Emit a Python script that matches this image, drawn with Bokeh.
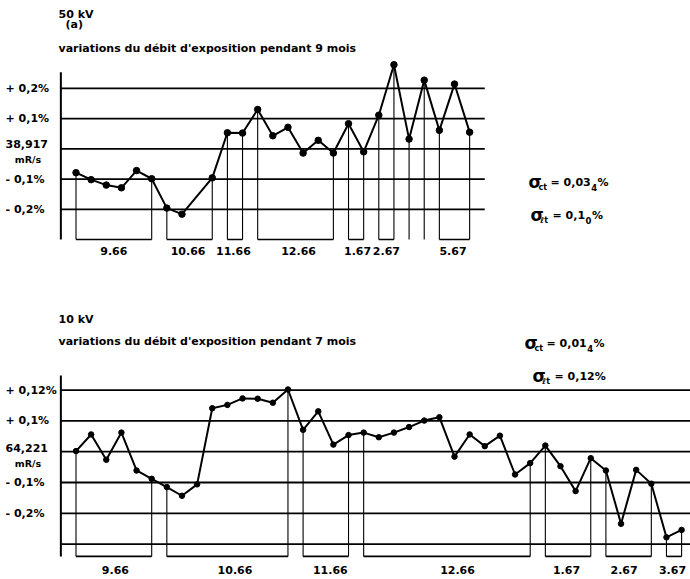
from bokeh.plotting import figure
from bokeh.layouts import column
from bokeh.models import Range1d
from bokeh.core.properties import value
from bokeh.embed import file_html
from bokeh.resources import INLINE

# ---------------- data : 50 kV (9 mois) ----------------
top_x = [0, 1, 2, 3, 4, 5, 6, 7, 9, 10, 11, 12, 13, 14, 15, 16, 17, 18, 19, 20, 21, 22, 23, 24, 25, 26]
top_y = [-0.079, -0.102, -0.120, -0.129, -0.072, -0.099, -0.196, -0.216, -0.096,
         0.053, 0.052, 0.130, 0.043, 0.071, -0.014, 0.028, -0.014, 0.083, -0.010,
         0.111, 0.278, 0.032, 0.227, 0.061, 0.214, 0.055]
top_month_first = [0, 6, 9, 11, 17, 19, 21, 22, 23]
top_month_last = [5, 8, 10, 16, 18, 20, 21, 22, 25]
top_month_labels = ["9.66", "10.66", "11.66", "12.66", "1.67", "2.67", "5.67"]
top_month_label_x = [2.5, 7.4, 10.4, 14.7, 18.6, 20.5, 24.9]
top_levels = [0.2, 0.1, 0.0, -0.1, -0.2]
top_level_labels = ["+ 0,2%", "+ 0,1%", "38,917", "- 0,1%", "- 0,2%"]
top_unit = "mR/s"
top_title = ["50 kV", "(a)", "variations du débit d'exposition pendant 9 mois"]
top_sigma = [("ct", "= 0,03", "4", "%"), ("ℓt", "= 0,1", "0", "%")]

# ---------------- data : 10 kV (7 mois) ----------------
bot_x = list(range(41))
bot_y = [0.002, 0.056, -0.026, 0.062, -0.061, -0.088, -0.115, -0.143, -0.106, 0.141,
         0.152, 0.173, 0.172, 0.159, 0.202, 0.071, 0.131, 0.023, 0.054, 0.062,
         0.047, 0.062, 0.080, 0.101, 0.112, -0.016, 0.056, 0.018, 0.052, -0.074,
         -0.037, 0.020, -0.047, -0.128, -0.021, -0.061, -0.234, -0.059, -0.104, -0.278,
         -0.254]
bot_month_first = [0, 6, 15, 19, 31, 35, 39]
bot_month_last = [5, 14, 18, 30, 34, 38, 40]
bot_month_labels = ["9.66", "10.66", "11.66", "12.66", "1.67", "2.67", "3.67"]
bot_month_label_x = [2.6, 10.5, 16.8, 25.2, 32.4, 36.2, 39.4]
bot_levels = [0.2, 0.1, 0.0, -0.1, -0.2, -0.3]
bot_level_labels = ["+ 0,12%", "+ 0,1%", "64,221", "- 0,1%", "- 0,2%", ""]
bot_unit = "mR/s"
bot_title = ["10 kV", "variations du débit d'exposition pendant 7 mois"]
bot_sigma = [("ct", "= 0,01", "4", "%"), ("ℓt", "= 0,12%", None, None)]

# ---------------- layout ----------------
W = 690
PX = 15.14      # pixels per measurement step
X0 = 75.5       # canvas pixel of step 0
AXIS_X = -1.0
FONT = value("DejaVu Sans")
TXT = dict(text_font=FONT, text_font_style="bold", text_color="black")
FS = "11px"

W_EM = {"=": 0.838, " ": 0.348, ",": 0.380, "%": 1.002}


def text_w(s, size):
    return sum(W_EM.get(c, 0.696) for c in s) * size


def make_fig(h, zero_px, unit_px):
    p = figure(width=W, height=h,
               x_range=Range1d(-X0 / PX, (W - X0) / PX),
               y_range=Range1d((zero_px - h) / unit_px, zero_px / unit_px),
               output_backend="svg", toolbar_location=None,
               x_axis_location=None, y_axis_location=None,
               min_border=0, outline_line_color=None,
               background_fill_color="white", border_fill_color="white")
    p.grid.visible = False
    tx = lambda px: -X0 / PX + px / PX
    ty = lambda py: (zero_px - py) / unit_px
    return p, tx, ty


def draw_chart(p, tx, ty, xs, ys, firsts, lasts, labels, label_x, levels, level_labels,
               unit, base, axis_top, grid_end, label_py, msize, zero_dy, unit_dy):
    # horizontal reference lines
    p.segment(x0=[AXIS_X] * len(levels), x1=[grid_end] * len(levels), y0=levels, y1=levels,
              line_color="black", line_width=1.8)
    # left axis line
    p.segment(x0=[AXIS_X], x1=[AXIS_X], y0=[base], y1=[axis_top], line_color="black", line_width=2)
    # month brackets
    vx, vy = [], []
    for f, l in zip(firsts, lasts):
        for i in sorted({f, l}):
            vx.append(xs[i])
            vy.append(ys[i])
    p.segment(x0=vx, x1=vx, y0=vy, y1=[base] * len(vx), line_color="black", line_width=1.1)
    hx0 = [xs[f] for f in firsts]
    hx1 = [xs[l] for l in lasts]
    p.segment(x0=hx0, x1=hx1, y0=[base] * len(hx0), y1=[base] * len(hx0),
              line_color="black", line_width=1.6)
    # data
    p.line(xs, ys, line_color="black", line_width=2)
    p.scatter(xs, ys, size=msize, fill_color="black", line_color="black")
    # month labels
    p.text(x=label_x, y=[ty(label_py)] * len(label_x), text=labels, text_align="center",
           text_baseline="middle", text_font_size=FS, **TXT)
    # level labels
    p.text(x=[tx(5)] * len(levels), y=levels, text=level_labels, text_align="left",
           text_baseline="middle", text_font_size=FS,
           y_offset=[zero_dy if lv == 0 else 0 for lv in levels], **TXT)
    p.text(x=[tx(27.5)], y=[0.0], text=[unit], text_align="center", text_baseline="middle",
           text_font_size="9.5px", y_offset=unit_dy, **TXT)


def sigma(p, tx, ty, left_px, mid_px, parts):
    sub, main, sub2, tail = parts
    x, y = [tx(left_px)], [ty(mid_px)]
    kw = dict(text_align="left", text_baseline="middle", **TXT)
    p.text(x=x, y=y, text=["σ"], text_font_size="17px", y_offset=-1, **kw)
    p.text(x=x, y=y, text=[sub], text_font_size="8px", x_offset=10, y_offset=5, **kw)
    off = 22
    p.text(x=x, y=y, text=[main], text_font_size=FS, x_offset=off, **kw)
    off += text_w(main, 11)
    if sub2:
        p.text(x=x, y=y, text=[sub2], text_font_size="8.5px", x_offset=off + 0.5, y_offset=5, **kw)
        off += text_w(sub2, 8.5) + 1
    if tail:
        p.text(x=x, y=y, text=[tail], text_font_size=FS, x_offset=off, **kw)


# ---------------- top chart : 50 kV ----------------
top, ttx, tty = make_fig(298, 148.3, 302.5)
draw_chart(top, ttx, tty, top_x, top_y, top_month_first, top_month_last,
           top_month_labels, top_month_label_x, top_levels, top_level_labels, top_unit,
           base=-0.30, axis_top=0.253, grid_end=27.0, label_py=250.0, msize=6.5,
           zero_dy=-5, unit_dy=11)
hdr = dict(text_align="left", text_baseline="middle", text_font_size=FS, **TXT)
top.text(x=[ttx(58)], y=[tty(13.5)], text=[top_title[0]], **hdr)
top.text(x=[ttx(65)], y=[tty(24)], text=[top_title[1]], **hdr)
top.text(x=[ttx(58)], y=[tty(48)], text=[top_title[2]], **hdr)
sigma(top, ttx, tty, 528, 182, top_sigma[0])
sigma(top, ttx, tty, 530, 215, top_sigma[1])

# ---------------- bottom chart : 10 kV ----------------
bot, btx, bty = make_fig(281, 153.2, 308.0)
draw_chart(bot, btx, bty, bot_x, bot_y, bot_month_first, bot_month_last,
           bot_month_labels, bot_month_label_x, bot_levels, bot_level_labels, bot_unit,
           base=-0.340, axis_top=0.247, grid_end=btx(W), label_py=271.0, msize=5.5,
           zero_dy=-4, unit_dy=12)
bot.text(x=[btx(58)], y=[bty(20.5)], text=[bot_title[0]], **hdr)
bot.text(x=[btx(58)], y=[bty(43)], text=[bot_title[1]], **hdr)
sigma(bot, btx, bty, 524, 45, bot_sigma[0])
sigma(bot, btx, bty, 532, 78, bot_sigma[1])

layout = column(top, bot, spacing=0)
open("out.html", "w").write(file_html(layout, INLINE))
